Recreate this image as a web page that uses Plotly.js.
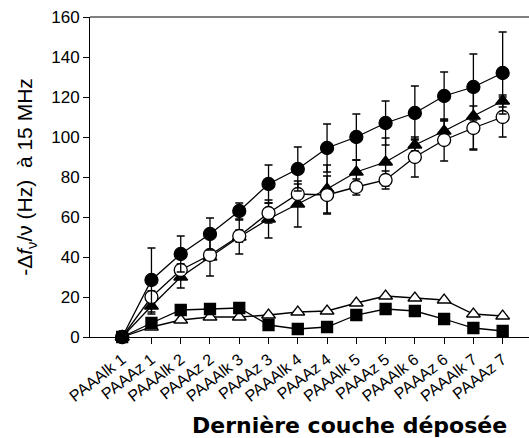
<!DOCTYPE html>
<html>
<head>
<meta charset="utf-8">
<script src="https://cdn.plot.ly/plotly-3.0.1.min.js"></script>
<style>html,body{margin:0;padding:0;background:#fff;}#chart{width:529px;height:438px;}</style>
</head>
<body>
<div id="chart"></div>
<script>
const categories = ["PAAAlk 1","PAAAz 1","PAAAlk 2","PAAAz 2","PAAAlk 3","PAAAz 3","PAAAlk 4","PAAAz 4","PAAAlk 5","PAAAz 5","PAAAlk 6","PAAAz 6","PAAAlk 7","PAAAz 7"];
const filledCircle = [0, 28.5, 41.5, 51.5, 63, 76.5, 84, 94.5, 100, 107, 112, 120.5, 125, 132];
const filledCircleErr = [0, 16, 9, 8, 4, 9.5, 11, 12, 11.5, 11, 13.5, 12, 16.5, 20.5];
const openCircle = [0, 20, 33.5, 41, 50.5, 62, 71.5, 71, 75, 78.5, 90, 98.5, 104.5, 110];
const openCircleErr = [0, 3, 3, 2, 3, 5, 5, 9.5, 4, 4.5, 10, 10.5, 11, 10];
const filledTriangle = [0, 15.5, 30, 40, 50, 59, 66.5, 74, 82.5, 87.5, 96, 103, 110.5, 118];
const filledTriangleErr = [0, 4, 5.5, 9.5, 8.5, 9.5, 11.5, 12, 6, 12, 3, 5, 16.5, 3];
const openTriangle = [0, 5, 8.5, 10, 10, 11, 12.5, 13, 17, 20.5, 19.5, 18.5, 11.5, 10.5];
const filledSquare = [0, 7, 13.5, 14, 14.5, 6, 4, 5, 11, 14, 13, 9, 4.5, 3];
const yTicks = [0, 20, 40, 60, 80, 100, 120, 140, 160];

const idx = categories.map((c, i) => i);
function series(y, symbol, size, err, color) {
  const t = {
    x: idx, y: y, type: 'scatter', mode: 'lines+markers',
    line: {color: '#000', width: 1.3},
    marker: {symbol: symbol, size: size, color: color, line: {color: '#000', width: 1.3}},
    showlegend: false, cliponaxis: false
  };
  if (err) t.error_y = {type: 'data', array: err, visible: true, color: '#000', thickness: 1.3, width: 4};
  return t;
}
const data = [
  series(openTriangle, 'triangle-up', 12, null, '#fff'),
  series(filledSquare, 'square', 11, null, '#000'),
  series(filledTriangle, 'triangle-up', 12, filledTriangleErr, '#000'),
  series(openCircle, 'circle', 13, openCircleErr, '#fff'),
  series(filledCircle, 'circle', 13, filledCircleErr, '#000')
];
const layout = {
  width: 529, height: 438,
  margin: {l: 90, r: 0, t: 17, b: 101},
  paper_bgcolor: '#fff', plot_bgcolor: '#fff',
  font: {family: 'Liberation Sans, Arial, sans-serif', color: '#000'},
  xaxis: {
    range: [-1.1, 13.9], tickmode: 'array', tickvals: idx, ticktext: categories,
    tickangle: -38, ticks: 'outside', ticklen: 6, tickcolor: '#000', tickwidth: 1,
    showline: true, linecolor: '#000', linewidth: 1, showgrid: false, zeroline: false,
    automargin: false,
    tickfont: {size: 16, family: 'Liberation Sans', color: '#000'}
  },
  yaxis: {
    range: [0, 160], tickmode: 'array', tickvals: yTicks,
    ticks: 'outside', ticklen: 6, tickcolor: '#000', tickwidth: 1,
    showline: true, linecolor: '#000', linewidth: 1, showgrid: false, zeroline: false,
    automargin: false,
    tickfont: {size: 17, family: 'Liberation Sans', color: '#000'},
    title: {text: '-Δ<i>f</i><sub>ν</sub>/ν (Hz)  à 15 MHz', standoff: 12,
            font: {size: 21, family: 'Liberation Sans', color: '#000'}}
  },
  shapes: [{type: 'line', xref: 'paper', yref: 'paper', x0: 0, x1: 1, y0: 1, y1: 1, line: {color: '#000', width: 1}}],
  annotations: [{
    text: '<b>Dernière couche déposée</b>', xref: 'paper', yref: 'paper',
    x: 0.592, y: 0, yshift: -88, xanchor: 'center', yanchor: 'middle', showarrow: false,
    font: {size: 22, family: 'DejaVu Sans', color: '#000'}
  }]
};
Plotly.newPlot('chart', data, layout, {displayModeBar: false, staticPlot: true});
</script>
</body>
</html>
